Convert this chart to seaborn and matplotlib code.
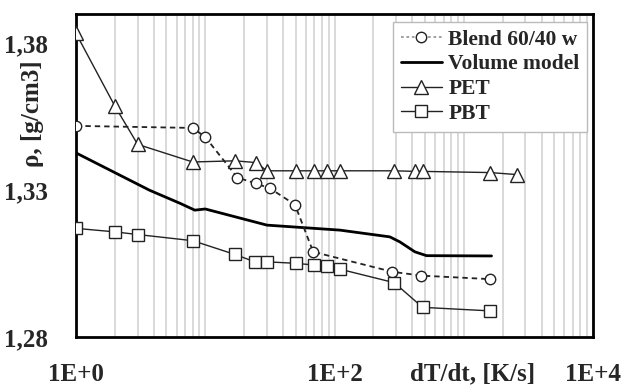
import matplotlib
matplotlib.use("Agg")
import matplotlib.pyplot as plt
import seaborn as sns
import numpy as np
import pandas as pd
from matplotlib.ticker import LogLocator, FixedLocator, NullFormatter, FixedFormatter

# ---- data ----
blend_x = [1, 8, 10, 17.7, 24.7, 31.7, 49.4, 68.4, 281, 471, 1610]
blend_y = [1.3519, 1.3512, 1.3481, 1.3343, 1.3323, 1.3306, 1.3251, 1.3090, 1.3022, 1.3009, 1.2997]

vol_x = [1, 3.7, 6.4, 8.3, 10, 30, 110, 268, 320, 419, 515, 1640]
vol_y = [1.3427, 1.3300, 1.3255, 1.3232, 1.3236, 1.3181, 1.3164, 1.3141, 1.3124, 1.3090, 1.3077, 1.3076]

pet_x = [1, 2, 3, 8, 17, 24.7, 30, 50, 70, 87, 110, 290, 420, 480, 1600, 2600]
pet_y = [1.3834, 1.3586, 1.3456, 1.3396, 1.3400, 1.3394, 1.3366, 1.3366, 1.3366, 1.3366,
         1.3366, 1.3366, 1.3364, 1.3364, 1.3360, 1.3353]

pbt_x = [1, 2, 3, 8, 17, 24.2, 30, 50, 70, 87, 110, 290, 480, 1590]
pbt_y = [1.3170, 1.3158, 1.3149, 1.3128, 1.3081, 1.3056, 1.3056, 1.3051, 1.3045, 1.3041,
         1.3031, 1.2985, 1.2901, 1.2889]

series_names = ["Blend 60/40 w", "Volume model", "PET", "PBT"]
x_tick_vals = [1, 100, 10000]
x_tick_labels = ["1E+0", "1E+2", "1E+4"]
y_tick_vals = [1.28, 1.33, 1.38]
y_tick_labels = ["1,28", "1,33", "1,38"]

sns.set_style("white")
plt.rcParams["font.family"] = ["Liberation Serif", "DejaVu Serif"]
plt.rcParams["font.weight"] = "bold"

fig = plt.figure(figsize=(6.24, 3.87), dpi=100)
ax = fig.add_axes([76/624, 1-337/387, (593-76)/624, (337-14)/387])

ax.set_xscale("log")
ax.set_xlim(1, 10000)
ax.set_ylim(1.28, 1.39)

# grid
ax.xaxis.set_major_locator(FixedLocator(x_tick_vals))
ax.xaxis.set_minor_locator(LogLocator(base=10, subs=np.arange(2, 10)))
ax.xaxis.set_minor_formatter(NullFormatter())
ax.grid(True, axis="x", which="both", color="#d0d0d0", lw=1.1, zorder=0)
for v in [10, 1000]:
    ax.axvline(v, color="#d0d0d0", lw=1.1, zorder=0)

df_b = pd.DataFrame({"x": blend_x, "y": blend_y})
df_v = pd.DataFrame({"x": vol_x, "y": vol_y})
df_p = pd.DataFrame({"x": pet_x, "y": pet_y})
df_q = pd.DataFrame({"x": pbt_x, "y": pbt_y})

sns.lineplot(data=df_b, x="x", y="y", ax=ax, estimator=None, sort=False,
             color="#222222", lw=1.3, linestyle=(0, (3, 2.2)), marker="o", markersize=7.5,
             markerfacecolor="white", markeredgecolor="#222222", markeredgewidth=1.0,
             label=series_names[0], zorder=4)
sns.lineplot(data=df_v, x="x", y="y", ax=ax, estimator=None, sort=False,
             color="black", lw=2.0, label=series_names[1], zorder=3)
sns.lineplot(data=df_p, x="x", y="y", ax=ax, estimator=None, sort=False,
             color="#222222", lw=1.0, marker="^", markersize=10,
             markerfacecolor="white", markeredgecolor="#222222", markeredgewidth=1.0,
             label=series_names[2], zorder=4)
sns.lineplot(data=df_q, x="x", y="y", ax=ax, estimator=None, sort=False,
             color="#222222", lw=1.0, marker="s", markersize=9,
             markerfacecolor="white", markeredgecolor="#222222", markeredgewidth=1.0,
             label=series_names[3], zorder=4)

ax.set_xlabel("")
ax.set_ylabel("")

ax.set_xticks(x_tick_vals)
ax.set_xticklabels(x_tick_labels, fontsize=18, fontweight="bold")
ax.tick_params(axis="x", which="both", length=0, pad=19)

ax.yaxis.set_major_locator(FixedLocator(y_tick_vals))
ax.yaxis.set_major_formatter(FixedFormatter(y_tick_labels))
ax.yaxis.set_minor_locator(FixedLocator(np.round(np.arange(1.29, 1.39, 0.01), 2)))
ax.tick_params(axis="y", which="major", direction="in", length=0, pad=20, labelsize=18)
ax.tick_params(axis="y", which="minor", direction="in", length=5, width=1, color="#888888")
for lbl in ax.get_yticklabels():
    lbl.set_fontweight("bold")

for s in ax.spines.values():
    s.set_color("black")
    s.set_linewidth(2)

fig.text(33/624, 1-114/387, "ρ, [g/cm3]", rotation=90, ha="center", va="center",
         fontsize=18, fontweight="bold")
fig.text(473/624, 1-374/387, "dT/dt, [K/s]", ha="center", va="center",
         fontsize=18, fontweight="bold")

leg = ax.legend(loc="upper right", bbox_to_anchor=((587-76)/517, (337-22)/323),
                frameon=True, fancybox=False, framealpha=1, edgecolor="#bbbbbb",
                prop={"size": 15.5, "weight": "bold"}, handlelength=1.9,
                handletextpad=0.3, labelspacing=0.22, borderpad=0.35, borderaxespad=0)
leg.get_frame().set_linewidth(1.0)
# lighter dotted handle for the blend entry, as in the reference
h0 = leg.get_lines()[0]
h0.set_color("#999999")
h0.set_linestyle((0, (1.5, 1.5)))
h0.set_markeredgecolor("#222222")

fig.savefig("out.png", dpi=100)
